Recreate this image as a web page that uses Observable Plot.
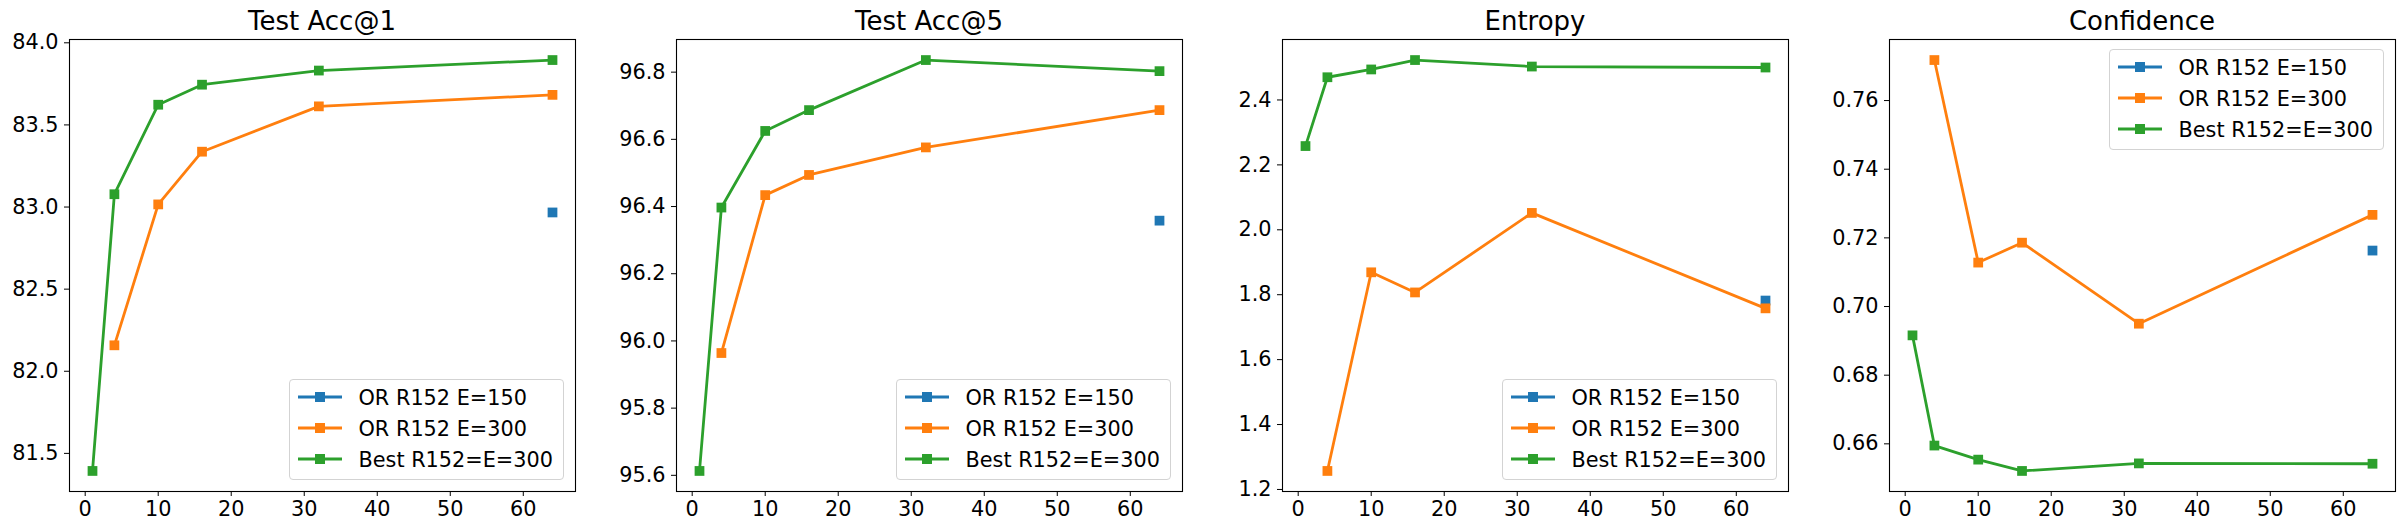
<!DOCTYPE html>
<html><head><meta charset="utf-8">
<script src="https://cdn.jsdelivr.net/npm/d3@7"></script>
<script src="https://cdn.jsdelivr.net/npm/@observablehq/plot@0.6"></script>
<style>
body{margin:0;background:#fff;font-family:"DejaVu Sans",sans-serif;}
#chart{position:relative;width:2404px;height:531px;overflow:hidden;background:#fff;}
.panel{position:absolute;top:0;height:531px;}
.panel svg{position:absolute;left:0;top:0;}
.title{position:absolute;top:7.5px;font-family:"DejaVu Sans",sans-serif;font-size:26px;line-height:26px;color:#000;text-align:center;white-space:nowrap;}
.legend{position:absolute;background:rgba(255,255,255,0.8);border:1px solid #d3d3d3;border-radius:4px;padding:2px 10px 4px 7px;font-family:"DejaVu Sans",sans-serif;font-size:20.8px;color:#000;}
.legend .row{display:flex;align-items:center;height:31px;white-space:nowrap;}
.legend svg{position:static;margin-right:16px;flex:none;}
</style></head><body><div id="chart"></div>
<script>
const seriesNames = ["OR R152 E=150", "OR R152 E=300", "Best R152=E=300"];
const seriesColors = ["#1f77b4", "#ff7f0e", "#2ca02c"];
const or150X = [64];
const or300X = [4, 10, 16, 32, 64];
const bestX = [1, 4, 10, 16, 32, 64];
const panelTitles = ["Test Acc@1", "Test Acc@5", "Entropy", "Confidence"];

const acc1Or150 = [82.967];
const acc1Or300 = [82.158, 83.016, 83.337, 83.613, 83.683];
const acc1Best = [81.393, 83.078, 83.623, 83.745, 83.831, 83.895];
const acc5Or150 = [96.358];
const acc5Or300 = [95.964, 96.434, 96.494, 96.576, 96.687];
const acc5Best = [95.613, 96.397, 96.625, 96.687, 96.836, 96.803];
const entOr150 = [1.782];
const entOr300 = [1.257, 1.869, 1.807, 2.052, 1.758];
const entBest = [2.258, 2.470, 2.494, 2.523, 2.503, 2.500];
const confOr150 = [0.7163];
const confOr300 = [0.7718, 0.7128, 0.7186, 0.6950, 0.7267];
const confBest = [0.6916, 0.6595, 0.6554, 0.6521, 0.6543, 0.6542];

const xTicks = [0, 10, 20, 30, 40, 50, 60];
const acc1Ticks = [81.5, 82.0, 82.5, 83.0, 83.5, 84.0];
const acc5Ticks = [95.6, 95.8, 96.0, 96.2, 96.4, 96.6, 96.8];
const entTicks = [1.2, 1.4, 1.6, 1.8, 2.0, 2.2, 2.4];
const confTicks = [0.66, 0.68, 0.70, 0.72, 0.74, 0.76];

const panels = [
  {title: panelTitles[0], vals: [acc1Or150, acc1Or300, acc1Best], ticks: acc1Ticks, fmt: ".1f", legend: "bottom"},
  {title: panelTitles[1], vals: [acc5Or150, acc5Or300, acc5Best], ticks: acc5Ticks, fmt: ".1f", legend: "bottom"},
  {title: panelTitles[2], vals: [entOr150, entOr300, entBest], ticks: entTicks, fmt: ".1f", legend: "bottom"},
  {title: panelTitles[3], vals: [confOr150, confOr300, confBest], ticks: confTicks, fmt: ".2f", legend: "top"}
];
const xsBySeries = [or150X, or300X, bestX];

// layout (px)
const frameLefts = [69, 676, 1282, 1889];
const frameW = 506, mL = 69, mR = 10, mT = 39, mB = 40, H = 531;

function pad(ext) { const d = (ext[1] - ext[0]) * 0.05; return [ext[0] - d, ext[1] + d]; }

const chart = document.getElementById("chart");
panels.forEach((p, i) => {
  const rows = [];
  p.vals.forEach((vs, s) => vs.forEach((v, k) => rows.push({series: seriesNames[s], x: xsBySeries[s][k], y: v})));
  const xDom = pad(d3.extent(rows, d => d.x));
  const yDom = pad(d3.extent(rows, d => d.y));
  const marks = [Plot.frame({stroke: "#000", strokeWidth: 1.1})];
  seriesNames.forEach((name, s) => {
    const data = rows.filter(r => r.series === name);
    marks.push(Plot.line(data, {x: "x", y: "y", stroke: seriesColors[s], strokeWidth: 2.8}));
    marks.push(Plot.dot(data, {x: "x", y: "y", symbol: "square", r: 5.5, fill: seriesColors[s], stroke: "none"}));
  });
  const svg = Plot.plot({
    width: mL + frameW + mR, height: H,
    marginLeft: mL, marginRight: mR, marginTop: mT, marginBottom: mB,
    style: {fontFamily: "DejaVu Sans", fontSize: "20.8px", color: "#000", background: "transparent"},
    x: {domain: xDom, ticks: xTicks, tickSize: 5, tickPadding: 5, tickFormat: d3.format("d"), label: null},
    y: {domain: yDom, ticks: p.ticks, tickSize: 5, tickPadding: 6, tickFormat: d3.format(p.fmt), label: null},
    marks
  });
  const div = document.createElement("div");
  div.className = "panel";
  div.style.left = (frameLefts[i] - mL) + "px";
  div.style.width = (mL + frameW + mR) + "px";
  div.appendChild(svg);
  const t = document.createElement("div");
  t.className = "title";
  t.style.left = mL + "px";
  t.style.width = frameW + "px";
  t.textContent = p.title;
  div.appendChild(t);
  const lg = document.createElement("div");
  lg.className = "legend";
  lg.style.right = (mR + 11) + "px";
  if (p.legend === "bottom") lg.style.bottom = (mB + 11) + "px"; else lg.style.top = (mT + 10) + "px";
  seriesNames.forEach((name, s) => {
    const row = document.createElement("div");
    row.className = "row";
    row.innerHTML = `<svg width="46" height="31"><line x1="1" x2="45" y1="15" y2="15" stroke="${seriesColors[s]}" stroke-width="3"/><rect x="18" y="10" width="10" height="10" fill="${seriesColors[s]}"/></svg><span>${name}</span>`;
    lg.appendChild(row);
  });
  div.appendChild(lg);
  chart.appendChild(div);
});
</script></body></html>
